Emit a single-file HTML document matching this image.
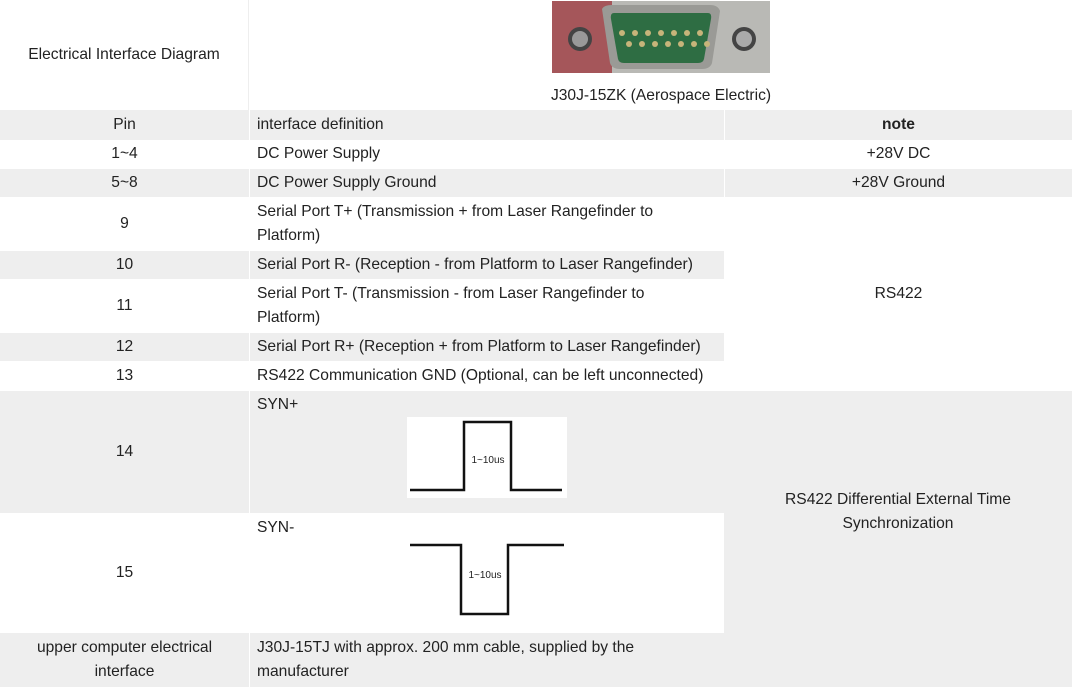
<!DOCTYPE html>
<html><head><meta charset="utf-8"><style>
*{margin:0;padding:0;box-sizing:border-box}
body{width:1073px;height:688px;background:#fff;font-family:"Liberation Sans",sans-serif;font-size:15.6px;color:#222;position:relative;overflow:hidden}
.c{position:absolute;display:flex;align-items:center;line-height:24px}
.g{background:#eeeeee}
.ctr{justify-content:center;text-align:center}
.l{padding-left:7px}
</style></head><body>
<div class="c ctr" style="left:0;top:0;width:249px;height:110px;border-right:1px solid #eee">Electrical Interface Diagram</div>
<div class="c ctr" style="left:250px;top:0;width:822px;height:110px;flex-direction:column;justify-content:flex-start">
  <svg width="218" height="72" style="margin-left:0;margin-top:1px" viewBox="0 0 218 72">
    <rect x="0" y="0" width="218" height="72" fill="#b9b9b5"/>
    <rect x="0" y="0" width="60" height="72" fill="#a5565a"/>
    <path d="M50 8 Q52 4 60 4 L158 4 Q166 4 168 10 L160 62 Q158 68 150 68 L68 68 Q60 68 58 62 Z" fill="#9a9a96"/>
    <path d="M62 12 L156 12 Q160 12 159 18 L152 58 Q151 62 146 62 L72 62 Q67 62 66 58 L59 18 Q58 12 62 12Z" fill="#2e6d43"/>
    <g fill="#c7b47a"><circle cx="83" cy="32" r="3"/><circle cx="96" cy="32" r="3"/><circle cx="109" cy="32" r="3"/><circle cx="122" cy="32" r="3"/><circle cx="135" cy="32" r="3"/><circle cx="148" cy="32" r="3"/><circle cx="77" cy="43" r="3"/><circle cx="90" cy="43" r="3"/><circle cx="103" cy="43" r="3"/><circle cx="116" cy="43" r="3"/><circle cx="129" cy="43" r="3"/><circle cx="142" cy="43" r="3"/><circle cx="155" cy="43" r="3"/><circle cx="70" cy="32" r="3"/></g>
    <circle cx="28" cy="38" r="12" fill="#444"/><circle cx="28" cy="38" r="8" fill="#999"/>
    <circle cx="192" cy="38" r="12" fill="#444"/><circle cx="192" cy="38" r="8" fill="#aaa"/>
  </svg>
  <div style="margin-top:11px">J30J-15ZK (Aerospace Electric)</div>
</div>

<div class="c ctr g" style="left:0;top:110px;width:249px;height:30px">Pin</div>
<div class="c l g" style="left:250px;top:110px;width:474px;height:30px">interface definition</div>
<div class="c ctr g" style="left:725px;top:110px;width:347px;height:30px;font-weight:bold">note</div>

<div class="c ctr" style="left:0;top:140px;width:249px;height:28px">1~4</div>
<div class="c l" style="left:250px;top:140px;width:474px;height:28px">DC Power Supply</div>
<div class="c ctr" style="left:725px;top:140px;width:347px;height:28px">+28V DC</div>

<div class="c ctr g" style="left:0;top:169px;width:249px;height:28px">5~8</div>
<div class="c l g" style="left:250px;top:169px;width:474px;height:28px">DC Power Supply Ground</div>
<div class="c ctr g" style="left:725px;top:169px;width:347px;height:28px">+28V Ground</div>

<div class="c ctr" style="left:0;top:198px;width:249px;height:52px">9</div>
<div class="c l" style="left:250px;top:198px;width:474px;height:52px">Serial Port T+ (Transmission + from Laser Rangefinder to<br>Platform)</div>

<div class="c ctr g" style="left:0;top:251px;width:249px;height:28px">10</div>
<div class="c l g" style="left:250px;top:251px;width:474px;height:28px">Serial Port R- (Reception - from Platform to Laser Rangefinder)</div>

<div class="c ctr" style="left:0;top:280px;width:249px;height:52px">11</div>
<div class="c l" style="left:250px;top:280px;width:474px;height:52px">Serial Port T- (Transmission - from Laser Rangefinder to<br>Platform)</div>

<div class="c ctr g" style="left:0;top:333px;width:249px;height:28px">12</div>
<div class="c l g" style="left:250px;top:333px;width:474px;height:28px">Serial Port R+ (Reception + from Platform to Laser Rangefinder)</div>

<div class="c ctr" style="left:0;top:362px;width:249px;height:28px">13</div>
<div class="c l" style="left:250px;top:362px;width:474px;height:28px">RS422 Communication GND (Optional, can be left unconnected)</div>

<div class="c ctr" style="left:725px;top:198px;width:347px;height:192px">RS422</div>

<div class="c ctr g" style="left:0;top:391px;width:249px;height:122px">14</div>
<div class="c g" style="left:250px;top:391px;width:474px;height:122px;align-items:flex-start">
  <div style="position:absolute;left:7px;top:2px">SYN+</div>
  <svg style="position:absolute;left:157px;top:26px" width="160" height="81">
    <rect width="160" height="81" fill="#fff"/>
    <polyline points="3,73 57,73 57,5 104,5 104,73 155,73" fill="none" stroke="#111" stroke-width="2.5"/>
    <text x="81" y="46" font-size="10" font-family="Liberation Sans,sans-serif" text-anchor="middle" fill="#222">1~10us</text>
  </svg>
</div>

<div class="c ctr" style="left:0;top:514px;width:249px;height:118px">15</div>
<div class="c" style="left:250px;top:514px;width:474px;height:118px">
  <div style="position:absolute;left:7px;top:2px">SYN-</div>
  <svg style="position:absolute;left:157px;top:26px" width="160" height="80">
    <polyline points="3,5 54,5 54,74 101,74 101,5 157,5" fill="none" stroke="#111" stroke-width="2.5"/>
    <text x="78" y="38" font-size="10" font-family="Liberation Sans,sans-serif" text-anchor="middle" fill="#222">1~10us</text>
  </svg>
</div>

<div class="c ctr g" style="left:724px;top:391px;width:348px;height:296px;padding-bottom:55px">RS422 Differential External Time<br>Synchronization</div>

<div class="c ctr g" style="left:0;top:633px;width:249px;height:54px">upper computer electrical<br>interface</div>
<div class="c l g" style="left:250px;top:633px;width:474px;height:54px">J30J-15TJ with approx. 200 mm cable, supplied by the<br>manufacturer</div>
</body></html>
